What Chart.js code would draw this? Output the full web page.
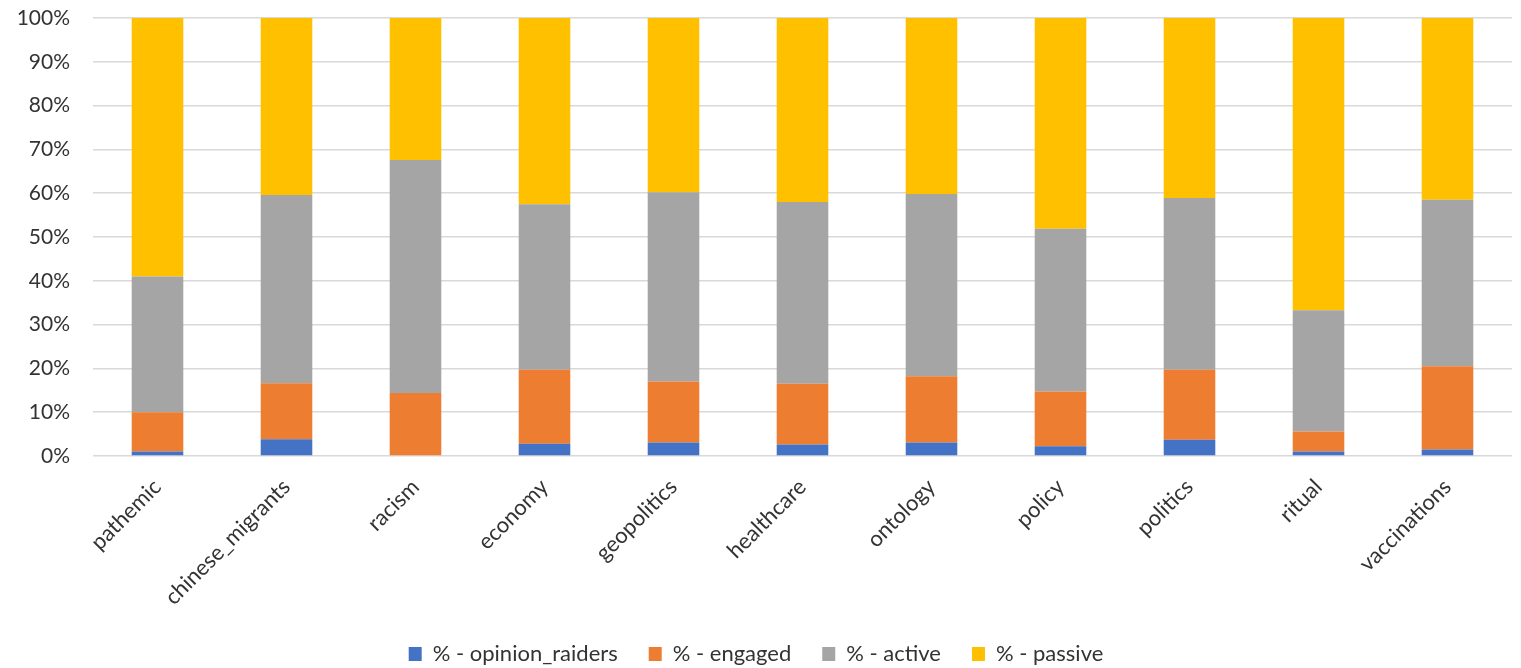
<!DOCTYPE html>
<html>
<head>
<meta charset="utf-8">
<script src="https://cdn.jsdelivr.net/npm/chart.js@4/dist/chart.umd.min.js"></script>
<style>
html,body{margin:0;padding:0;background:#fff}
#wrap{width:1521px;height:668px}
</style>
</head>
<body>
<div id="wrap"><canvas id="shareChart" width="1521" height="668"></canvas></div>
<script>
/* categories + stacked shares (percent of users per topic) */

const topics = ["pathemic","chinese_migrants","racism","economy","geopolitics","healthcare","ontology","policy","politics","ritual","vaccinations"]

const raiders = [1.0,3.8,0,2.8,3.1,2.6,3.1,2.2,3.7,1.0,1.5]
const engaged = [9.0,12.8,14.4,16.9,13.9,13.9,15.1,12.5,16.0,4.6,19.0]
const active = [31.0,43.0,53.2,37.8,43.2,41.5,41.6,37.2,39.2,27.7,38.0]
const passive = [59.0,40.4,32.4,42.5,39.8,42.0,40.2,48.1,41.1,66.7,41.5]

const yTicks = [0,10,20,30,40,50,60,70,80,90,100]

const font = "Lato, 'Open Sans', sans-serif"
const textColor = "#333333"

const ctx = document.getElementById("shareChart")

new Chart(ctx,{

type:"bar",

data:{
labels:topics,
datasets:[
{label:"% - opinion_raiders",data:raiders,backgroundColor:"#4472c4"},
{label:"% - engaged",data:engaged,backgroundColor:"#ed7d31"},
{label:"% - active",data:active,backgroundColor:"#a5a5a5"},
{label:"% - passive",data:passive,backgroundColor:"#ffc000"}
]
},

options:{
responsive:false,
animation:false,
layout:{padding:{left:0,right:9,top:0,bottom:0}},
datasets:{bar:{categoryPercentage:1,barPercentage:0.4,borderWidth:0}},
plugins:{
tooltip:{enabled:false},
legend:{
position:"bottom",
maxHeight:56,
labels:{
font:{family:font,size:22},
color:textColor,
boxWidth:13,
boxHeight:14,
padding:31
}
}
},
scales:{
x:{
stacked:true,
grid:{display:false},
border:{display:false},
ticks:{
font:{family:font,size:22},
color:textColor,
maxRotation:45,
minRotation:45,
padding:10
},
// fixed band for the slanted topic names
afterFit:(axis)=>{ axis.height = 156 }
},
y:{
stacked:true,
min:0,
max:100,
afterBuildTicks:(axis)=>{
axis.ticks = yTicks.map(v=>({value:v}))
},
grid:{color:"#d9d9d9",lineWidth:1.5,drawTicks:false},
border:{display:false},
ticks:{
font:{family:font,size:21},
color:textColor,
padding:23,
callback:(v)=>v+"%"
},
afterFit:(axis)=>{
axis.width = 93
axis.paddingTop = 18
axis.paddingBottom = 0
}
}
}
}

})
</script>
</body>
</html>
